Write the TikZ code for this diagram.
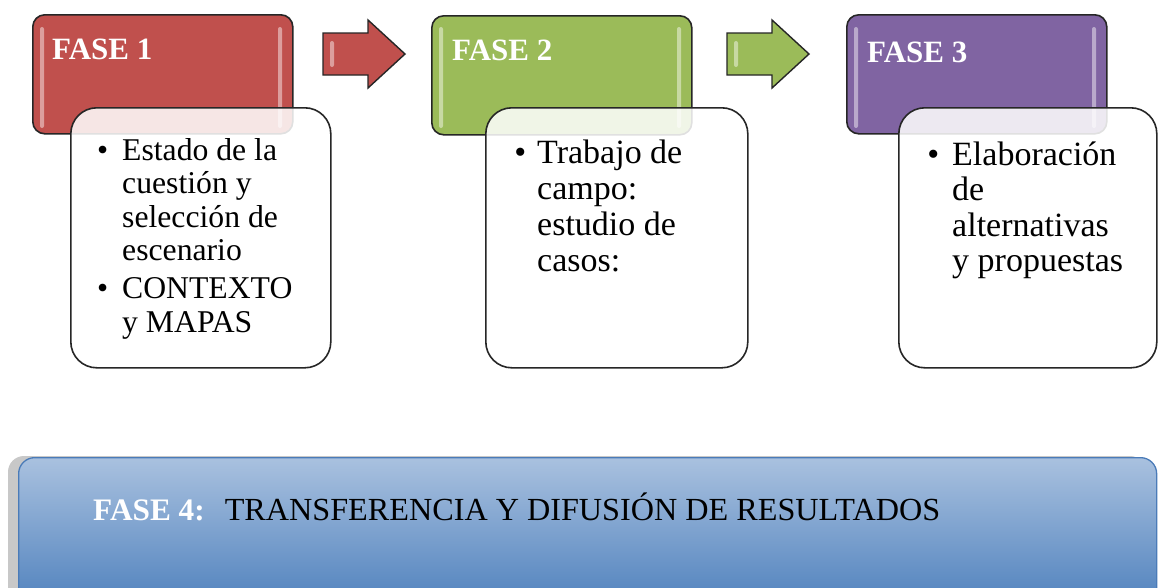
\documentclass[tikz,border=0pt]{standalone}
\usepackage{fontspec}
\setmainfont{Liberation Serif}
\usetikzlibrary{shadings}
\definecolor{fred}{HTML}{C0504D}
\definecolor{fgreen}{HTML}{9BBB59}
\definecolor{fpurple}{HTML}{8064A2}
\definecolor{fbluetop}{HTML}{A9C1DF}
\definecolor{fbluebot}{HTML}{4F81BD}
\definecolor{fblueedge}{HTML}{4A7BB8}
\definecolor{edgec}{HTML}{262626}
\definecolor{shadowc}{HTML}{C8C8C8}
\begin{document}
\begin{tikzpicture}[x=1pt,y=-1pt,
  header/.style={draw=edgec, line width=1.6pt, rounded corners=12pt, anchor=north west,
    minimum width=260pt, minimum height=119pt, inner sep=0pt},
  bodybox/.style={draw=edgec, line width=1.6pt, rounded corners=26pt, fill=white,
    fill opacity=0.86, anchor=north west, minimum width=260pt, minimum height=260pt, inner sep=0pt},
  glint/.style={fill=white, opacity=0.45, rounded corners=2pt},
  blockarrow/.style={draw=edgec, line width=1.4pt, line join=miter},
  headtxt/.style={anchor=base west, inner sep=0pt, text=white,
    font=\fontsize{31}{33}\selectfont\bfseries},
  bodytxtA/.style={anchor=base west, inner sep=0pt, font=\fontsize{31.7}{33.6}\selectfont},
  bodytxtB/.style={anchor=base west, inner sep=0pt, font=\fontsize{34}{36}\selectfont},
  bodytxtC/.style={anchor=base west, inner sep=0pt, font=\fontsize{34}{35.5}\selectfont},
]
\useasboundingbox (0,0) rectangle (1158,587);
\clip (0,0) rectangle (1158,587);
\fill[white] (0,0) rectangle (1158,587);

% ---------- headers ----------
\node[header, fill=fred] (h1) at (32,14) {};
\node[header, fill=fgreen] (h2) at (431,15) {};
\node[header, fill=fpurple] (h3) at (846,14) {};
\foreach \hx in {32,431,846}{
  \fill[glint] (\hx+8,27) rectangle (\hx+12,128);
  \fill[glint] (\hx+246,27) rectangle (\hx+250,128);
}
\node[headtxt] (ht1) at (52,59) {FASE 1};
\node[headtxt] (ht2) at (452,60) {FASE 2};
\node[headtxt] (ht3) at (867,62) {FASE 3};

% ---------- block arrows ----------
\draw[blockarrow, fill=fred] (323,33) -- (368,33) -- (368,20) -- (405,54) -- (368,88) -- (368,75) -- (323,75) -- cycle;
\fill[glint] (330,41) rectangle (334,67);
\draw[blockarrow, fill=fgreen] (727,33) -- (772,33) -- (772,20) -- (809,54) -- (772,88) -- (772,75) -- (727,75) -- cycle;
\fill[glint] (734,41) rectangle (738,67);

% ---------- bodies ----------
\node[bodybox] (b1) at (70,107) {};
\node[bodybox, minimum width=262pt] (b2) at (485,107) {};
\node[bodybox, minimum width=258pt] (b3) at (898,107) {};

\node[bodytxtA] (t1) at (122,160) {\begin{tabular}[t]{@{}l@{}}
  \llap{\textbullet\hspace{14pt}}Estado de la\\
  cuestión y\\
  selección de\\
  escenario\\[4pt]
  \llap{\textbullet\hspace{14pt}}CONTEXTO\\
  y MAPAS
\end{tabular}};
\node[bodytxtB] (t2) at (537,163) {\begin{tabular}[t]{@{}l@{}}
  \llap{\textbullet\hspace{11pt}}Trabajo de\\
  campo:\\
  estudio de\\
  casos:
\end{tabular}};
\node[bodytxtC] (t3) at (952,165) {\begin{tabular}[t]{@{}l@{}}
  \llap{\textbullet\hspace{13pt}}Elaboración\\
  de\\
  alternativas\\
  y propuestas
\end{tabular}};

% ---------- fase 4 ----------
\fill[shadowc, rounded corners=16pt] (8,456) rectangle (1146,640);
\node[draw=fblueedge, line width=1.3pt, rounded corners=16pt, top color=fbluetop, bottom color=fbluebot,
  anchor=north west, minimum width=1138pt, minimum height=150pt, inner sep=0pt] (f4) at (18,457) {};
\node[anchor=base west, inner sep=0pt, font=\fontsize{31.3}{34}\selectfont] (t4) at (93,520)
  {\textcolor{white}{\bfseries FASE 4:}\hspace{20pt}{\fontsize{32.2}{34}\selectfont TRANSFERENCIA Y DIFUSIÓN DE RESULTADOS}};
\end{tikzpicture}
\end{document}
